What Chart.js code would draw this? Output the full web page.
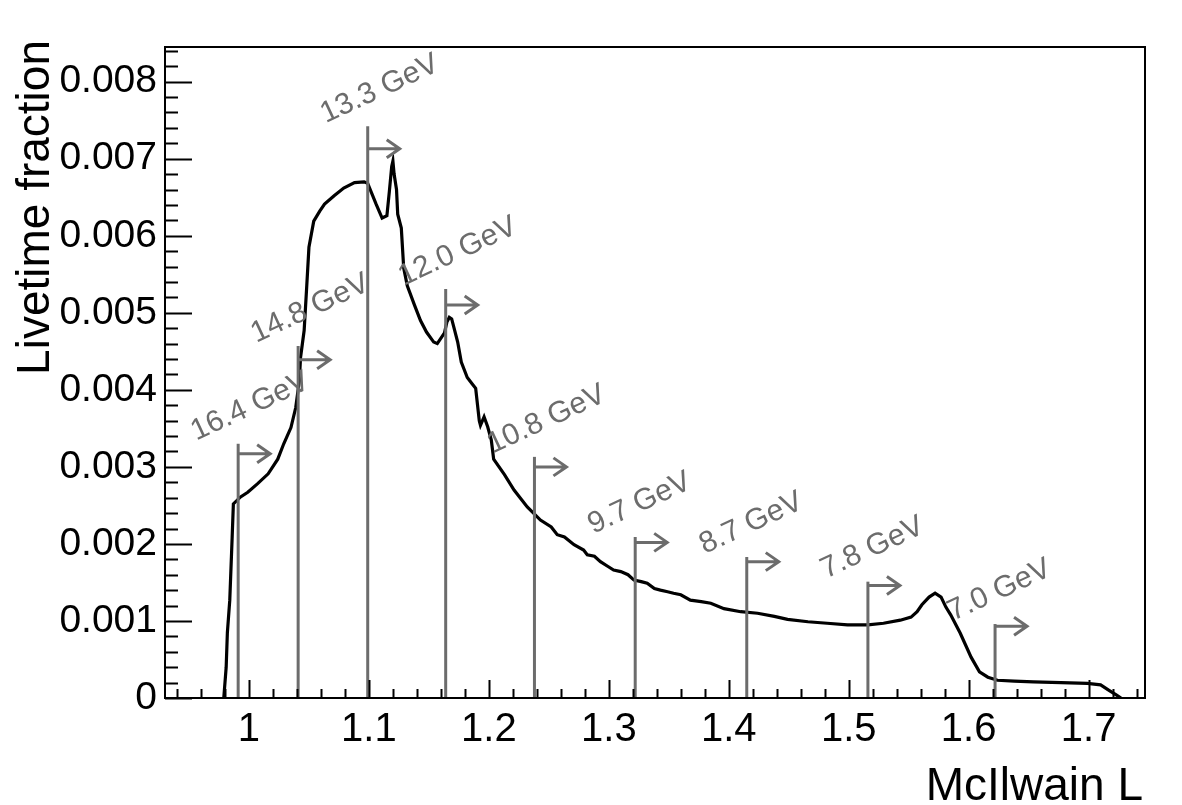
<!DOCTYPE html>
<html>
<head>
<meta charset="utf-8">
<script src="https://cdn.jsdelivr.net/npm/chart.js@4.4.1/dist/chart.umd.min.js"></script>
<style>
  html, body { margin: 0; padding: 0; background: #fff; }
  #wrap { width: 1182px; height: 805px; }
</style>
</head>
<body>
<div id="wrap"><canvas id="chart" width="1182" height="805"></canvas></div>
<script>
// McIlwain L histogram
const lValues = [
  0.979, 0.981, 0.982, 0.984, 0.986, 0.987, 0.993, 0.999, 1.007, 1.016,
  1.024, 1.029, 1.035, 1.039, 1.042, 1.043, 1.046, 1.048, 1.050, 1.054,
  1.059, 1.063, 1.071, 1.079, 1.088, 1.096, 1.099, 1.106, 1.111, 1.115,
  1.117, 1.119, 1.120, 1.121, 1.123, 1.124, 1.127, 1.129, 1.132, 1.138,
  1.143, 1.148, 1.154, 1.157, 1.163, 1.165, 1.167, 1.169, 1.171, 1.174,
  1.177, 1.182, 1.186, 1.189, 1.192, 1.193, 1.196, 1.199, 1.202, 1.204,
  1.213, 1.221, 1.232, 1.243, 1.252, 1.257, 1.263, 1.271, 1.279, 1.282,
  1.288, 1.293, 1.299, 1.304, 1.310, 1.316, 1.321, 1.327, 1.332, 1.338,
  1.343, 1.349, 1.354, 1.360, 1.368, 1.377, 1.385, 1.396, 1.410, 1.424,
  1.438, 1.449, 1.466, 1.482, 1.499, 1.516, 1.529, 1.543, 1.552, 1.557,
  1.561, 1.567, 1.572, 1.577, 1.581, 1.585, 1.593, 1.602, 1.609, 1.616,
  1.624, 1.638, 1.654, 1.677, 1.699, 1.710, 1.717, 1.723, 1.727
];
const fractionValues = [
  0, 0.0004, 0.00085, 0.00127, 0.00209, 0.00252, 0.00261, 0.00267, 0.00278, 0.00291,
  0.0031, 0.0033, 0.00351, 0.00377, 0.00412, 0.00442, 0.00477, 0.0053, 0.00585, 0.00619,
  0.00632, 0.00641, 0.00652, 0.00662, 0.00669, 0.0067, 0.00668, 0.00641, 0.00623, 0.00626,
  0.00657, 0.0069, 0.00697, 0.0068, 0.0066, 0.00628, 0.0061, 0.00558, 0.00535, 0.0051,
  0.0049, 0.00475, 0.00462, 0.0046, 0.00474, 0.00488, 0.00494, 0.00492, 0.0048, 0.00462,
  0.00436, 0.00416, 0.00408, 0.00402, 0.0036, 0.00354, 0.00365, 0.00352, 0.00335, 0.0031,
  0.0029, 0.0027, 0.00248, 0.00231, 0.00222, 0.00212, 0.00209, 0.00199, 0.00192, 0.00186,
  0.00184, 0.00177, 0.00171, 0.00166, 0.00164, 0.0016, 0.00153, 0.00151, 0.00149, 0.00142,
  0.0014, 0.00138, 0.00136, 0.00134, 0.00127, 0.00125, 0.00123, 0.00116, 0.00112, 0.0011,
  0.00106, 0.00102, 0.00099, 0.00097, 0.00095, 0.00095, 0.00097, 0.00101, 0.00105, 0.00112,
  0.00121, 0.00131, 0.00136, 0.00131, 0.00118, 0.00108, 0.00084, 0.00053, 0.00034, 0.00027,
  0.00023, 0.00022, 0.00021, 0.0002, 0.00019, 0.00017, 0.0001, 0.00004, 0
];

// rigidity cutoff markers
const cutoffLabels = ['16.4 GeV', '14.8 GeV', '13.3 GeV', '12.0 GeV', '10.8 GeV', '9.7 GeV', '8.7 GeV', '7.8 GeV', '7.0 GeV'];
const cutoffL = [0.991, 1.041, 1.099, 1.164, 1.238, 1.322, 1.415, 1.516, 1.622];
const cutoffTop = [0.0033, 0.00457, 0.00742, 0.00531, 0.00313, 0.00209, 0.00183, 0.00151, 0.00096];
const cutoffArrow = [0.00317, 0.00439, 0.00713, 0.0051, 0.003, 0.00202, 0.00177, 0.00146, 0.00093];

// axis ticks
const xTickLabels = ['1', '1.1', '1.2', '1.3', '1.4', '1.5', '1.6', '1.7'];
const yTickLabels = ['0', '0.001', '0.002', '0.003', '0.004', '0.005', '0.006', '0.007', '0.008'];
const xMinorStep = 0.02;
const yMinorStep = 0.0002;

const FONT = '"Liberation Sans", Arial, Helvetica, sans-serif';
const GREY = 'rgb(108,108,108)';

// ROOT-style frame, inward ticks, axis titles, cutoff markers
const rootStyle = {
  id: 'rootStyle',
  afterDatasetsDraw(chart) {
    const { ctx, scales: { x, y } } = chart;
    ctx.save();
    ctx.strokeStyle = GREY;
    ctx.fillStyle = GREY;
    ctx.lineWidth = 3;
    ctx.font = '30px ' + FONT;
    cutoffL.forEach((l, i) => {
      const px = x.getPixelForValue(l);
      const top = y.getPixelForValue(cutoffTop[i]);
      const ay = y.getPixelForValue(cutoffArrow[i]);
      ctx.beginPath();
      ctx.moveTo(px, y.bottom);
      ctx.lineTo(px, top);
      ctx.stroke();
      // arrow
      const tip = px + 32;
      ctx.beginPath();
      ctx.moveTo(px, ay);
      ctx.lineTo(tip, ay);
      ctx.moveTo(tip - 13, ay - 9);
      ctx.lineTo(tip, ay);
      ctx.lineTo(tip - 13, ay + 9);
      ctx.stroke();
      // label
      ctx.save();
      ctx.translate(px - 42, top - 3);
      ctx.rotate(-25 * Math.PI / 180);
      ctx.textAlign = 'left';
      ctx.textBaseline = 'alphabetic';
      ctx.fillText(cutoffLabels[i], 0, 0);
      ctx.restore();
    });
    ctx.restore();
  },
  afterDraw(chart) {
    const { ctx, chartArea: a, scales: { x, y } } = chart;
    ctx.save();
    ctx.strokeStyle = '#000';
    ctx.lineWidth = 2;
    ctx.strokeRect(a.left, a.top, a.right - a.left, a.bottom - a.top);

    // x ticks
    ctx.beginPath();
    for (let k = 0; ; k++) {
      const v = 0.94 + k * xMinorStep;
      if (v > x.max) break;
      const px = Math.round(x.getPixelForValue(v)) + 0.5;
      const major = Math.abs(v * 10 - Math.round(v * 10)) < 1e-6;
      ctx.moveTo(px, a.bottom);
      ctx.lineTo(px, a.bottom - (major ? 18 : 9));
    }
    // y ticks
    for (let k = 0; ; k++) {
      const v = k * yMinorStep;
      if (v > y.max) break;
      const py = Math.round(y.getPixelForValue(v)) + 0.5;
      const major = k % 5 === 0;
      ctx.moveTo(a.left, py);
      ctx.lineTo(a.left + (major ? 27 : 13), py);
    }
    ctx.stroke();

    // axis titles
    ctx.fillStyle = '#000';
    ctx.font = '46px ' + FONT;
    ctx.textAlign = 'right';
    ctx.textBaseline = 'alphabetic';
    ctx.fillText('McIlwain L', 1143, 800);
    ctx.save();
    ctx.translate(49, 40);
    ctx.rotate(-Math.PI / 2);
    ctx.textAlign = 'right';
    ctx.fillText('Livetime fraction', 0, 0);
    ctx.restore();
    ctx.restore();
  }
};

const ctx = document.getElementById('chart');
new Chart(ctx, {
  type: 'scatter',
  data: {
    datasets: [{
      data: lValues.map((l, i) => ({ x: l, y: fractionValues[i] })),
      showLine: true,
      borderColor: '#000',
      borderWidth: 3.2,
      pointRadius: 0,
      tension: 0,
      fill: false
    }]
  },
  options: {
    responsive: false,
    animation: false,
    devicePixelRatio: 1,
    layout: { padding: { top: 47, right: 37, left: 0, bottom: 0 } },
    plugins: { legend: { display: false }, tooltip: { enabled: false } },
    scales: {
      x: {
        type: 'linear',
        min: 0.93,
        max: 1.747,
        grid: { display: false, drawTicks: false },
        border: { display: false },
        afterBuildTicks(scale) {
          scale.ticks = xTickLabels.map(t => ({ value: parseFloat(t) }));
        },
        afterFit(scale) { scale.height = 107; },
        ticks: {
          padding: 8,
          maxRotation: 0,
          autoSkip: false,
          color: '#000',
          font: { family: FONT, size: 40 },
          callback: (v, i) => xTickLabels[i]
        }
      },
      y: {
        type: 'linear',
        min: 0,
        max: 0.00845,
        grid: { display: false, drawTicks: false },
        border: { display: false },
        afterBuildTicks(scale) {
          scale.ticks = yTickLabels.map(t => ({ value: parseFloat(t) }));
        },
        afterFit(scale) { scale.width = 165; },
        ticks: {
          padding: 8,
          autoSkip: false,
          color: '#000',
          font: { family: FONT, size: 39 },
          callback: (v, i) => yTickLabels[i]
        }
      }
    }
  },
  plugins: [rootStyle]
});
</script>
</body>
</html>
